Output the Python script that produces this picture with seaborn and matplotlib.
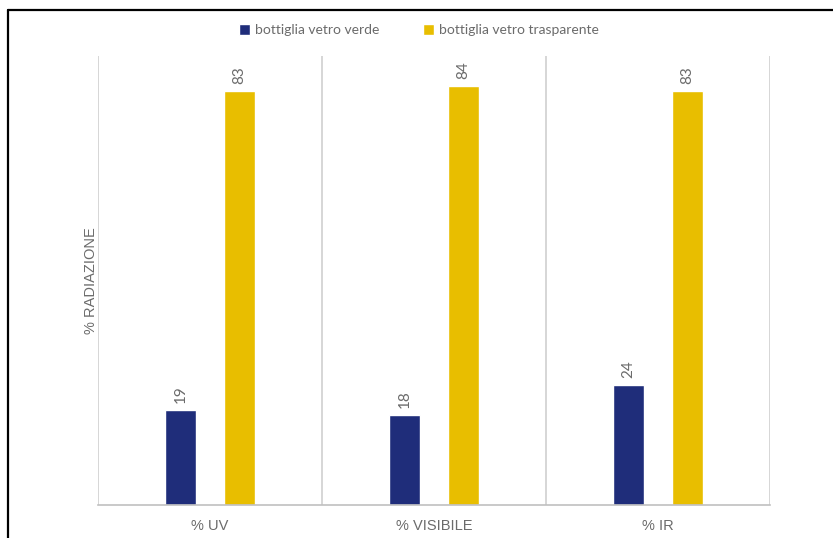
import pandas as pd
import matplotlib.pyplot as plt
import seaborn as sns
from matplotlib.lines import Line2D

# data
categories = ['% UV', '% VISIBILE', '% IR']
verde = [19, 18, 24]
trasparente = [83, 84, 83]
series = ['bottiglia vetro verde', 'bottiglia vetro trasparente']

df = pd.DataFrame({
    'cat': categories * 2,
    'val': verde + trasparente,
    'serie': [series[0]] * 3 + [series[1]] * 3,
})

sns.set_theme(style='white')
plt.rcParams['font.family'] = ['Lato', 'DejaVu Sans']
grey = '#6b6b6b'

fig = plt.figure(figsize=(8.33, 5.38), dpi=100)
ax = fig.add_axes([98 / 833, 33 / 538, 672 / 833, 449 / 538])

sns.barplot(data=df, x='cat', y='val', hue='serie', order=categories,
            palette=['#1f2d7a', '#e8be00'], width=0.53, gap=0.47,
            ax=ax, legend=True, saturation=1)

for c in ax.containers:
    ax.bar_label(c, rotation=90, padding=5, color=grey, fontsize=11)

ax.set_xlim(-0.5, 2.5)
ax.set_ylim(0, 90)
for x in [-0.5, 0.5, 1.5, 2.5]:
    ax.axvline(x, color='#d0d0d0', lw=1.2, zorder=0)
for s in ['top', 'right', 'left']:
    ax.spines[s].set_visible(False)
ax.spines['bottom'].set_color('#c0c0c0')
ax.spines['bottom'].set_linewidth(1.2)
ax.set_yticks([])
ax.set_xlabel('')
ax.set_ylabel('% RADIAZIONE', color=grey, fontsize=10.5, labelpad=0,
              family=['Liberation Sans', 'DejaVu Sans'])
ax.tick_params(axis='x', length=0, pad=10, labelsize=10.5, labelcolor=grey)
for t in ax.get_xticklabels():
    t.set_family(['Liberation Sans', 'DejaVu Sans'])

handles, labels = ax.get_legend_handles_labels()
ax.legend_.remove()
fig.legend(handles, labels, loc='center', bbox_to_anchor=(419 / 833, 1 - 30 / 538),
           ncol=2, frameon=False, fontsize=10, labelcolor=grey,
           handlelength=0.8, handleheight=0.8, handletextpad=0.4,
           columnspacing=3.1)

# black frame lines on left and top of the figure
fig.add_artist(Line2D([8 / 833, 8 / 833], [0, 1 - 10 / 538], color='black', lw=1.6))
fig.add_artist(Line2D([8 / 833, 1], [1 - 10 / 538, 1 - 10 / 538], color='black', lw=1.6))

fig.savefig('out.png', dpi=100)
